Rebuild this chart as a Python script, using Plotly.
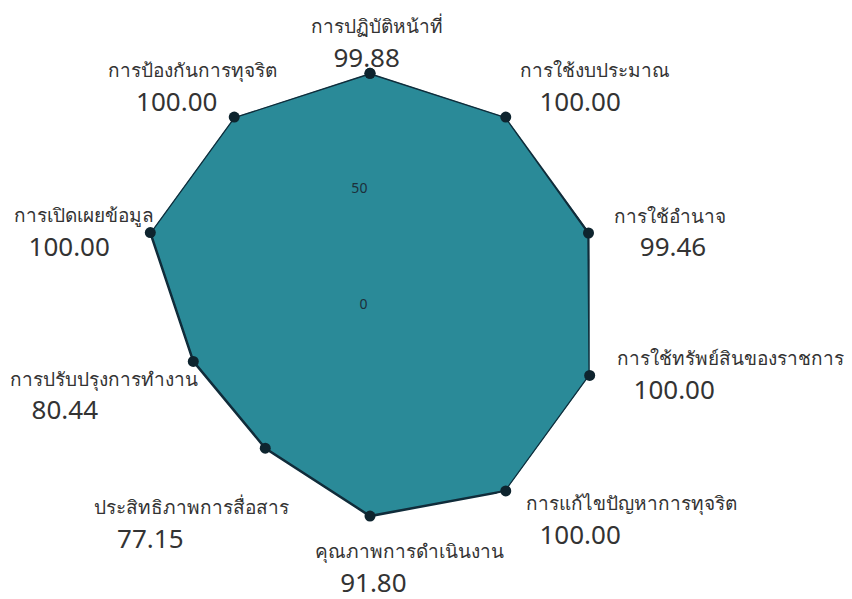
import plotly.graph_objects as go

categories = [
    "การปฏิบัติหน้าที่",
    "การใช้งบประมาณ",
    "การใช้อำนาจ",
    "การใช้ทรัพย์สินของราชการ",
    "การแก้ไขปัญหาการทุจริต",
    "คุณภาพการดำเนินงาน",
    "ประสิทธิภาพการสื่อสาร",
    "การปรับปรุงการทำงาน",
    "การเปิดเผยข้อมูล",
    "การป้องกันการทุจริต",
]
scores = [99.88, 100.00, 99.46, 100.00, 100.00, 91.80, 77.15, 80.44, 100.00, 100.00]
radial_ticks = [0, 50, 100]
radial_ticktext = ["0", "50", ""]

# text placement (styling): vertical anchor, horizontal shift (px) of label / value line,
# and an invisible anchor-marker size that sets the text's distance from its point
label_vpos = ["top", "top", "middle", "middle", "bottom",
              "bottom", "bottom", "bottom", "middle", "top"]
label_shift = [8, 90, 82, 140, 126, 39, -74, -89, -67, -42]
value_shift = [-2, 73, 84, 85, 74, 5, -116, -128, -82, -58]
anchor_size = [0, 0, 6, 6, 0, 34, 18, 6, 6, 0]
extra_gap = [False, False, False, False, False, False, True, False, False, False]

LABEL_SIZE = 19
VALUE_SIZE = 26
NB = "\u00a0"


def padded(text, shift, size):
    n = int(round(abs(2 * shift) / (0.26 * size)))
    return NB * n + text if shift > 0 else text + NB * n


label_text = []
for c, v, ls, vs, g in zip(categories, scores, label_shift, value_shift, extra_gap):
    lab = f"<span style='font-size:{LABEL_SIZE}px'>{padded(c, ls, LABEL_SIZE)}</span>"
    val = padded(f"{v:.2f}", vs, VALUE_SIZE)
    label_text.append(("<br>" if g else "") + lab + "<br>" + val)

fig = go.Figure()
fig.add_trace(go.Scatterpolar(
    r=scores + [scores[0]],
    theta=categories + [categories[0]],
    mode="lines+markers",
    fill="toself",
    fillcolor="rgb(42,138,152)",
    line=dict(color="rgb(16,44,58)", width=2.5),
    marker=dict(color="rgb(14,36,46)", size=11),
    hoverinfo="skip",
    showlegend=False,
))
fig.add_trace(go.Scatterpolar(
    r=scores,
    theta=categories,
    mode="markers+text",
    marker=dict(size=anchor_size, color="rgba(0,0,0,0)", line=dict(width=0, color="rgba(0,0,0,0)")),
    text=label_text,
    textposition=[p + " center" for p in label_vpos],
    textfont=dict(size=VALUE_SIZE, color="#333333", family="Noto Sans, Tahoma, sans-serif"),
    cliponaxis=False,
    hoverinfo="skip",
    showlegend=False,
))

fig.update_layout(
    width=852, height=599,
    paper_bgcolor="white",
    plot_bgcolor="white",
    margin=dict(l=0, r=0, t=0, b=0),
    font=dict(family="Noto Sans, Tahoma, sans-serif", color="#333333"),
    polar=dict(
        domain=dict(x=[131/852, 593/852], y=[1-527/599, 1-65/599]),
        bgcolor="white",
        gridshape="linear",
        angularaxis=dict(
            direction="clockwise",
            rotation=90,
            tickmode="array",
            tickvals=categories,
            showticklabels=False,
            showline=False,
            gridcolor="rgba(255,255,255,0.13)",
            ticks="",
        ),
        radialaxis=dict(
            range=[0, 100],
            tickvals=radial_ticks,
            ticktext=radial_ticktext,
            angle=90,
            tickangle=90,
            side="counterclockwise",
            showline=False,
            gridcolor="rgba(255,255,255,0.13)",
            ticks="",
            tickfont=dict(size=14, color="#1c2f3a"),
        ),
    ),
)

fig.write_html("out.html")
